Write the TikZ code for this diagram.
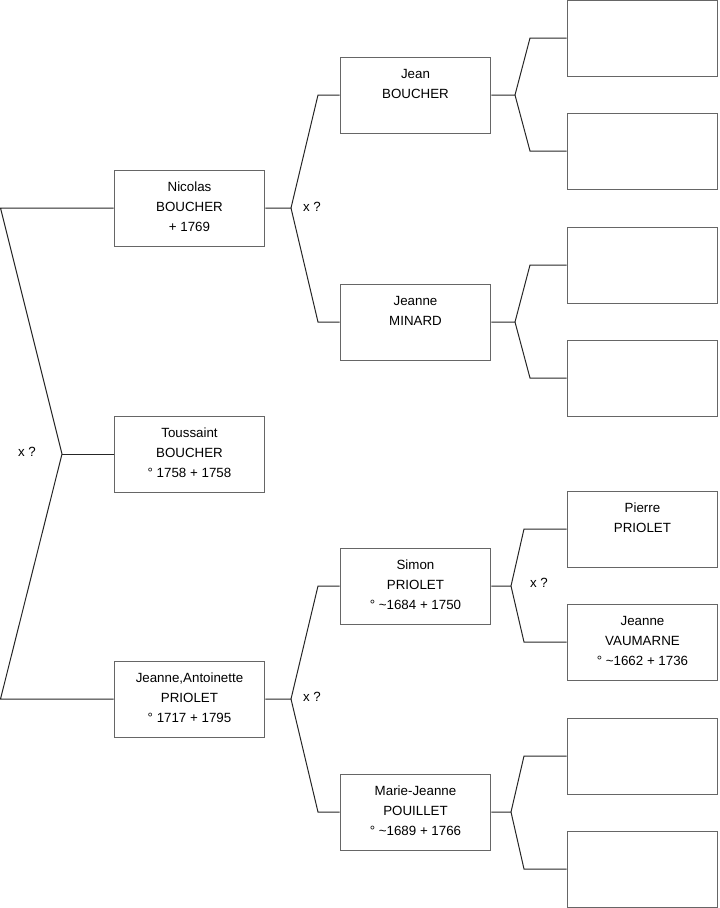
\documentclass[tikz,border=0pt]{standalone}
\usepackage{fontspec}
\setmainfont{Liberation Sans}
\begin{document}
\begin{tikzpicture}[x=0.75pt,y=-0.75pt,
  box/.style={draw=black!60,line width=0.75pt,minimum width=113pt,minimum height=57pt,inner sep=0pt,fill=white},
  lbl/.style={anchor=north,yshift=-9.1pt,align=center,font=\fontsize{10pt}{15pt}\selectfont,inner sep=0pt},
  conn/.style={draw=black!85,line width=0.75pt},
  xq/.style={font=\fontsize{10pt}{12pt}\selectfont,inner sep=0pt}]
\useasboundingbox (0,0) rectangle (719,908);
% generation 1
\node[box,label={[lbl]north:{Nicolas\\BOUCHER\\+ 1769}}] (nic) at (189.5,208) {};
\node[box,label={[lbl]north:{Toussaint\\BOUCHER\\° 1758 + 1758}}] (tou) at (189.5,454) {};
\node[box,label={[lbl]north:{Jeanne,Antoinette\\PRIOLET\\° 1717 + 1795}}] (ja) at (189.5,699) {};
% generation 2
\node[box,label={[lbl]north:{Jean\\BOUCHER}}] (jean) at (415.5,95) {};
\node[box,label={[lbl]north:{Jeanne\\MINARD}}] (jmin) at (415.5,322) {};
\node[box,label={[lbl]north:{Simon\\PRIOLET\\° \textasciitilde1684 + 1750}}] (sim) at (415.5,586) {};
\node[box,label={[lbl]north:{Marie-Jeanne\\POUILLET\\° \textasciitilde1689 + 1766}}] (mj) at (415.5,812) {};
% generation 3
\node[box] (r1) at (642.5,38) {};
\node[box] (r2) at (642.5,151) {};
\node[box] (r3) at (642.5,265) {};
\node[box] (r4) at (642.5,378) {};
\node[box,label={[lbl]north:{Pierre\\PRIOLET}}] (r5) at (642.5,529) {};
\node[box,label={[lbl]north:{Jeanne\\VAUMARNE\\° \textasciitilde1662 + 1736}}] (r6) at (642.5,642) {};
\node[box] (r7) at (642.5,756) {};
\node[box] (r8) at (642.5,869) {};
% coordinates
\coordinate (a0) at (0.5,208);
\coordinate (b0) at (0.5,699);
\coordinate (j0) at (62,454);
\coordinate (j1) at (291,208);
\coordinate (t1) at (318,95);
\coordinate (u1) at (318,322);
\coordinate (j2) at (291,699);
\coordinate (t2) at (318,586);
\coordinate (u2) at (318,812);
\coordinate (j3) at (515,95);
\coordinate (t3) at (530,38);
\coordinate (u3) at (530,151);
\coordinate (j4) at (515,322);
\coordinate (t4) at (530,265);
\coordinate (u4) at (530,378);
\coordinate (j5) at (511,586);
\coordinate (t5) at (524,529);
\coordinate (u5) at (524,642);
\coordinate (j6) at (511,812);
\coordinate (t6) at (524,756);
\coordinate (u6) at (524,869);
% connectors
\draw[conn] (nic.west) -- (a0) -- (j0) -- (b0) -- (ja.west);
\draw[conn] (j0) -- (tou.west);
\draw[conn] (nic.east) -- (j1) -- (t1) -- (jean.west);
\draw[conn] (j1) -- (u1) -- (jmin.west);
\draw[conn] (ja.east) -- (j2) -- (t2) -- (sim.west);
\draw[conn] (j2) -- (u2) -- (mj.west);
\draw[conn] (jean.east) -- (j3) -- (t3) -- (r1.west);
\draw[conn] (j3) -- (u3) -- (r2.west);
\draw[conn] (jmin.east) -- (j4) -- (t4) -- (r3.west);
\draw[conn] (j4) -- (u4) -- (r4.west);
\draw[conn] (sim.east) -- (j5) -- (t5) -- (r5.west);
\draw[conn] (j5) -- (u5) -- (r6.west);
\draw[conn] (mj.east) -- (j6) -- (t6) -- (r7.west);
\draw[conn] (j6) -- (u6) -- (r8.west);
% marriage labels
\node[xq] (m0) at (27,452) {x ?};
\node[xq] (m1) at (312,207) {x ?};
\node[xq] (m2) at (312,697) {x ?};
\node[xq] (m3) at (539,583) {x ?};
\end{tikzpicture}
\end{document}
